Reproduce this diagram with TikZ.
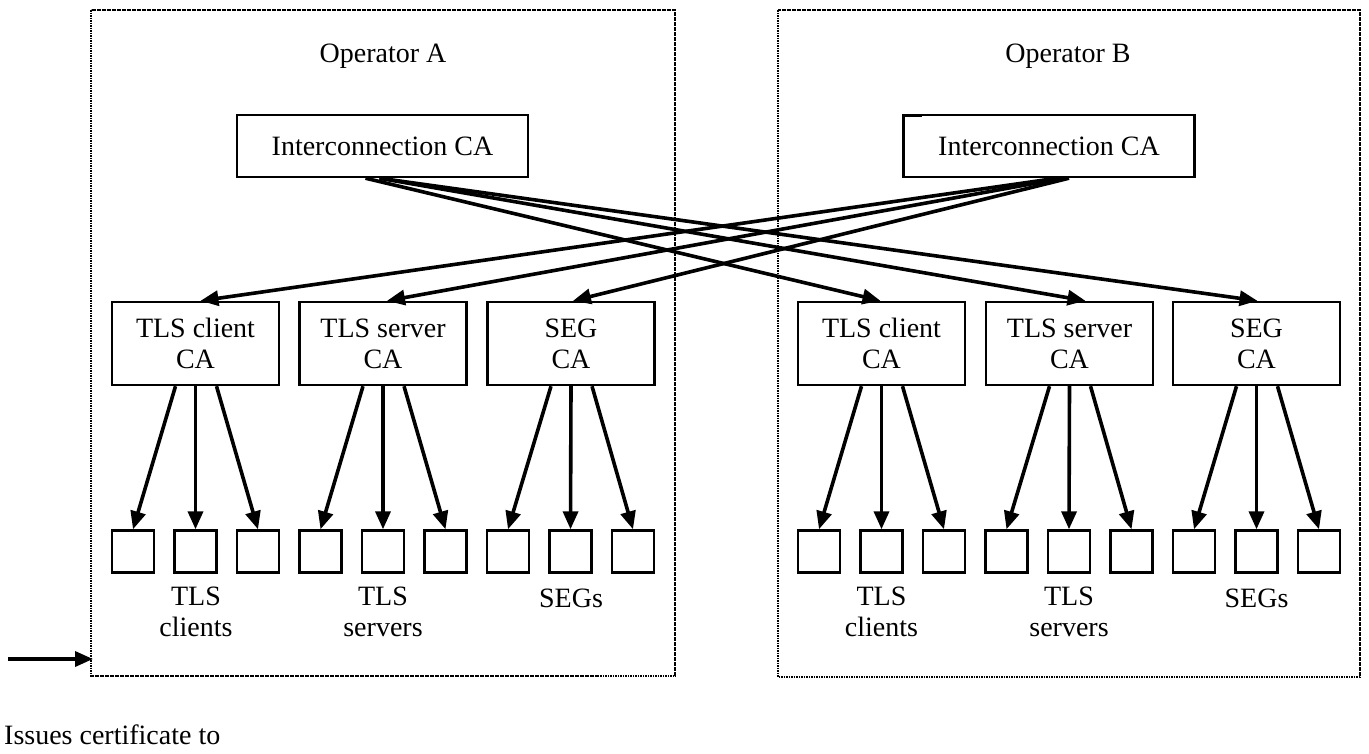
\documentclass[tikz,border=0pt]{standalone}
\usepackage{fontspec}
\setmainfont{Liberation Serif}
\usetikzlibrary{arrows.meta}
\begin{document}
\begin{tikzpicture}[x=1pt,y=-1pt,
  every node/.style={font=\fontsize{28}{31}\selectfont},
  frame/.style={draw, line width=2.8pt, dash pattern=on 1.6pt off 0.9pt},
  bigbox/.style={draw, line width=2.4pt, minimum width=291pt, minimum height=62pt, inner sep=0pt},
  midbox/.style={draw, line width=2.4pt, minimum width=167pt, minimum height=83pt, inner sep=0pt, align=center},
  leaf/.style={draw, line width=2.4pt, minimum width=42pt, minimum height=42pt, inner sep=0pt},
  lbl/.style={align=center, inner sep=0pt},
  issue/.style={line width=3.6pt, -{Triangle[length=18pt,width=15pt]}}
]
\useasboundingbox (0,0) rectangle (1369,753);
% operator frames
\draw[frame] (91,10) rectangle (675,676);
\draw[frame] (778,10) rectangle (1360,677);
\node (opA) at (383,56) {Operator A};
\node (opB) at (1068,56) {Operator B};
% interconnection CAs
\node[bigbox] (icA) at (382.5,146) {Interconnection CA};
\node[bigbox] (icB) at (1049,146) {Interconnection CA};
\draw[line width=2.4pt] ([yshift=-2pt]icB.north west) -- ++(20,0);
% mid CAs
\node[midbox] (tcA) at (195.5,343.5) {TLS client\\CA};
\node[midbox] (tsA) at (383,343.5) {TLS server\\CA};
\node[midbox] (sgA) at (571,343.5) {SEG\\CA};
\node[midbox] (tcB) at (881.5,343.5) {TLS client\\CA};
\node[midbox] (tsB) at (1069.5,343.5) {TLS server\\CA};
\node[midbox] (sgB) at (1256.5,343.5) {SEG\\CA};
% leaves
\foreach \i in {1,...,9} {
  \node[leaf] (la\i) at ({133+62.5*(\i-1)},551.5) {};
  \node[leaf] (lb\i) at ({819+62.5*(\i-1)},551.5) {};
}
% leaf labels
\node[lbl] (ltcA) at (196,612) {TLS\\clients};
\node[lbl] (ltsA) at (383,612) {TLS\\servers};
\node[lbl] (lsgA) at (571,598) {SEGs};
\node[lbl] (ltcB) at (881.5,612) {TLS\\clients};
\node[lbl] (ltsB) at (1069,612) {TLS\\servers};
\node[lbl] (lsgB) at (1256.5,598) {SEGs};
% cross-certification arrows
\draw[issue] ([xshift=-17pt]icA.south) -- ([xshift=-1pt]tcB.north);
\draw[issue] ([xshift=-3pt]icA.south) -- ([xshift=16pt]tsB.north);
\draw[issue] ([xshift=-3pt]icA.south) -- ([xshift=1pt]sgB.north);
\draw[issue] ([xshift=8pt]icB.south) -- ([xshift=5pt]tcA.north);
\draw[issue] ([xshift=14pt]icB.south) -- ([xshift=4pt]tsA.north);
\draw[issue] ([xshift=20pt]icB.south) -- ([xshift=2pt]sgA.north);
% issuing arrows to leaves
\foreach \m/\a/\b/\c in {tcA/la1/la2/la3, tsA/la4/la5/la6, sgA/la7/la8/la9,
                          tcB/lb1/lb2/lb3, tsB/lb4/lb5/lb6, sgB/lb7/lb8/lb9} {
  \draw[issue] ([xshift=-20pt]\m.south) -- (\a.north);
  \draw[issue] (\m.south) -- (\b.north);
  \draw[issue] ([xshift=21pt]\m.south) -- (\c.north);
}
% legend
\coordinate (lg1) at (8,659);
\coordinate (lg2) at (93,659);
\draw[issue] (lg1) -- (lg2);
\node[anchor=west, inner sep=0pt] (lgt) at (4,735) {Issues certificate to};
\end{tikzpicture}
\end{document}
